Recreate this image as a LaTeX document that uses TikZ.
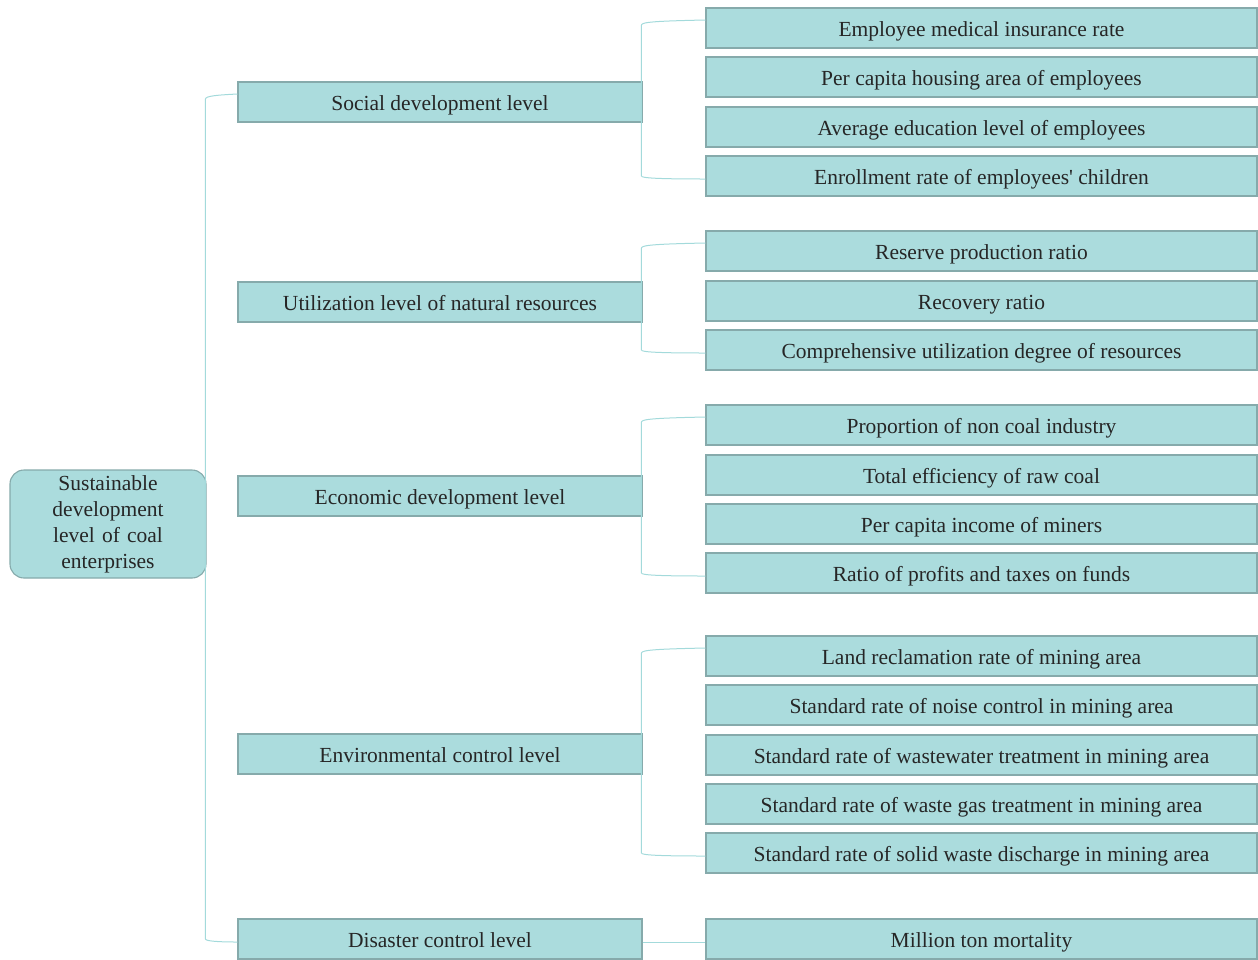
\documentclass[tikz,border=0pt]{standalone}
\usepackage{fontspec}
\setmainfont{Liberation Serif}
\definecolor{boxc}{HTML}{ABDCDD}
\definecolor{bordc}{HTML}{86AAAB}
\definecolor{connc}{HTML}{A3DADB}
\definecolor{txtc}{HTML}{262626}
\newcommand\brk[3]{%
  \draw[conn] ([yshift=8pt]#2.west) .. controls ([xshift=-48pt,yshift=7pt]#2.west) and ([xshift=-64pt,yshift=6pt]#2.west) .. ([xshift=-64pt,yshift=3pt]#2.west)
    -- ([xshift=-64pt,yshift=0pt]#3.west) .. controls ([xshift=-64pt,yshift=-2pt]#3.west) and ([xshift=-48pt,yshift=-3pt]#3.west) .. ([yshift=-3pt]#3.west);}
\begin{document}
\begin{tikzpicture}[x=1pt,y=-1pt,
  base/.style={draw=bordc, line width=1.1pt, fill=boxc, text=txtc, inner sep=0pt, font=\fontsize{21.5}{26}\selectfont},
  leaf/.style={base, minimum width=551pt, minimum height=40pt, text height=17pt, text depth=1pt},
  mid/.style={base, minimum width=404pt, minimum height=40pt, text height=17pt, text depth=1pt},
  rootbox/.style={base, rounded corners=14pt, minimum width=196pt, minimum height=108pt, align=center, text width=190pt},
  conn/.style={draw=connc, line width=1pt}]
\useasboundingbox (0,0) rectangle (1258,959);
\node[rootbox] (root) at (108,524) {Sustainable\\development\\level of coal\\enterprises};
\node[mid] (soc) at (440,102) {Social development level};
\node[mid] (uti) at (440,302) {Utilization level of natural resources};
\node[mid] (eco) at (440,496) {Economic development level};
\node[mid] (env) at (440,754) {Environmental control level};
\node[mid] (dis) at (440,939) {Disaster control level};
\node[leaf] (s1) at (981.5,28) {Employee medical insurance rate};
\node[leaf] (s2) at (981.5,77) {Per capita housing area of employees};
\node[leaf] (s3) at (981.5,127) {Average education level of employees};
\node[leaf] (s4) at (981.5,176) {Enrollment rate of employees\textquotesingle{} children};
\node[leaf] (u1) at (981.5,251) {Reserve production ratio};
\node[leaf] (u2) at (981.5,301) {Recovery ratio};
\node[leaf] (u3) at (981.5,350) {Comprehensive utilization degree of resources};
\node[leaf] (e1) at (981.5,425) {Proportion of non coal industry};
\node[leaf] (e2) at (981.5,475) {Total efficiency of raw coal};
\node[leaf] (e3) at (981.5,524) {Per capita income of miners};
\node[leaf] (e4) at (981.5,573) {Ratio of profits and taxes on funds};
\node[leaf] (v1) at (981.5,656) {Land reclamation rate of mining area};
\node[leaf] (v2) at (981.5,705) {Standard rate of noise control in mining area};
\node[leaf] (v3) at (981.5,755) {Standard rate of wastewater treatment in mining area};
\node[leaf] (v4) at (981.5,804) {Standard rate of waste gas treatment in mining area};
\node[leaf] (v5) at (981.5,853) {Standard rate of solid waste discharge in mining area};
\node[leaf] (d1) at (981.5,939) {Million ton mortality};
% trunk
\draw[conn] ([yshift=8pt]soc.west) .. controls ([xshift=-20pt,yshift=7pt]soc.west) and ([xshift=-32pt,yshift=6pt]soc.west) .. ([xshift=-32pt,yshift=3pt]soc.west)
  -- ([xshift=-32pt,yshift=0pt]dis.west) .. controls ([xshift=-32pt,yshift=-2pt]dis.west) and ([xshift=-20pt,yshift=-3pt]dis.west) .. ([yshift=-3pt]dis.west);
\brk{soc}{s1}{s4}
\brk{uti}{u1}{u3}
\brk{eco}{e1}{e4}
\brk{env}{v1}{v5}
\draw[conn] ([yshift=-3pt]dis.east) -- ([yshift=-3pt]d1.west);
\end{tikzpicture}
\end{document}
